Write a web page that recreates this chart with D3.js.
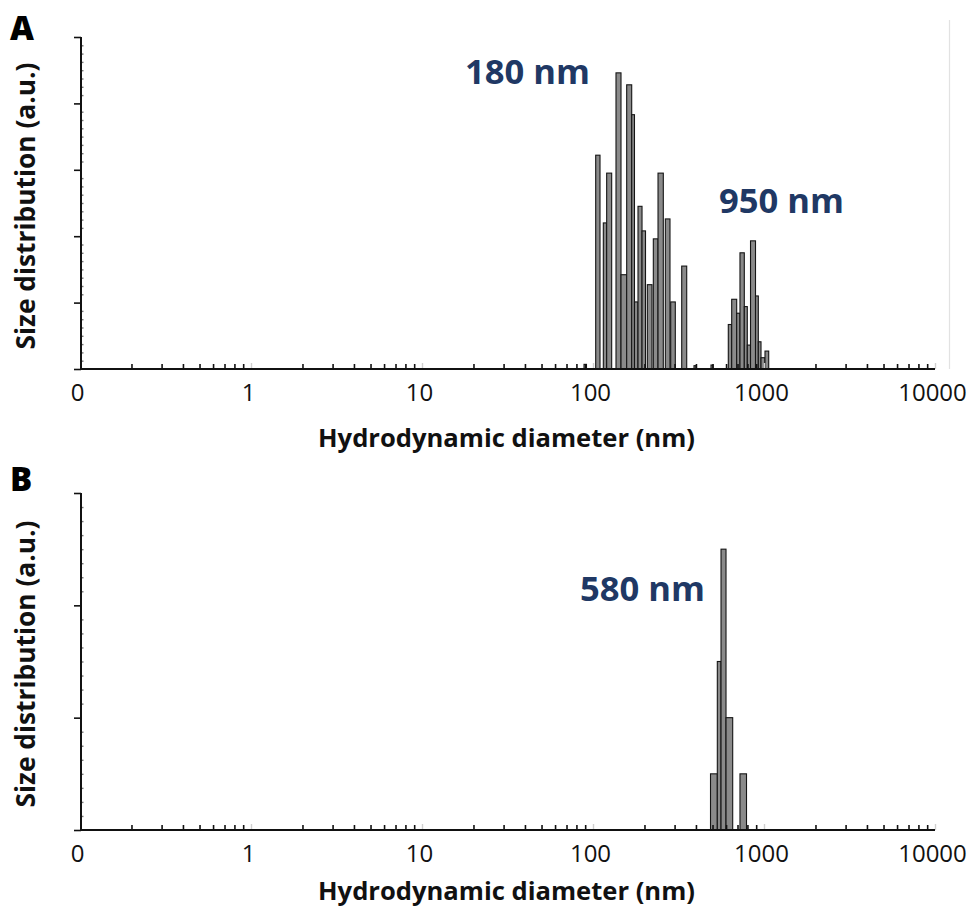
<!DOCTYPE html>
<html><head><meta charset="utf-8">
<script src="https://cdn.jsdelivr.net/npm/d3@7"></script>
<style>body{margin:0;background:#fff}</style>
</head><body>
<svg id="c" width="969" height="910"></svg>
<script>
// ---------------- data ----------------
const xTickValues = [0.1, 1, 10, 100, 1000, 10000];
const xTickLabels = ["0", "1", "10", "100", "1000", "10000"];

// Panel A: histogram bins (nm) and heights (a.u.)
const binLoA = [88.6, 103.7, 114.9, 120.2, 136.3, 145.8, 157.4, 168.4, 174.8, 183.3, 193.5, 207.8, 225.3, 240.0, 264.8, 284.7, 330.2,
                389.6, 489.8, 618.3, 647.3, 692.3, 723.6, 767.0, 798.6, 834.0, 892.0, 926.3, 960.5, 1013.5];
const binHiA = [91.6, 109.9, 120.2, 128.6, 145.8, 157.4, 168.4, 174.8, 183.3, 193.5, 202.8, 221.3, 240.0, 257.7, 282.0, 302.9, 353.2,
                400.3, 503.2, 647.3, 692.3, 723.6, 767.0, 798.6, 834.0, 892.0, 926.3, 960.5, 1013.5, 1065.4];
const valA   = [0.07, 3.22, 2.20, 2.95, 4.46, 1.42, 4.28, 3.83, 1.01, 2.45, 2.08, 1.27, 1.96, 2.95, 2.26, 1.01, 1.55,
                0.05, 0.06, 0.67, 1.05, 0.84, 1.75, 0.94, 0.36, 1.93, 1.10, 0.41, 0.17, 0.27];

// Panel B
const binLoB = [486.6, 533.3, 560.6, 599.6, 723.6];
const binHiB = [533.3, 560.6, 599.6, 656.1, 790.2];
const valB   = [0.5, 1.5, 2.5, 1.0, 0.5];

const peakTextA = ["180 nm", "950 nm"];
const peakTextB = ["580 nm"];
const yMaxA = 5, yMaxB = 3;
const xTitle = "Hydrodynamic diameter (nm)";
const yTitle = "Size distribution (a.u.)";

// ---------------- drawing ----------------
const svg = d3.select("#c");
const x = d3.scaleLog().domain([0.1, 10000]).range([80, 935]);
const minorX = [];
[0.1, 1, 10, 100, 1000].forEach(d => { for (let k = 2; k <= 9; k++) minorX.push(d * k); });

function fitText(sel, target) {
  const w = sel.node().getComputedTextLength();
  const fs = parseFloat(sel.attr("font-size"));
  sel.attr("font-size", fs * target / w);
}

function panel(cfg) {
  const g = svg.append("g");
  const y = d3.scaleLinear().domain([0, cfg.yMax]).range([cfg.bottom, cfg.top]);

  if (cfg.rightLine) g.append("line").attr("x1", 949.5).attr("x2", 949.5).attr("y1", cfg.top - 17).attr("y2", cfg.bottom)
     .attr("stroke", "#e2e2e2").attr("stroke-width", 1.2);

  // bars
  const data = cfg.lo.map((d, i) => ({lo: d, hi: cfg.hi[i], v: cfg.val[i]}));
  g.selectAll("rect.bar").data(data).join("rect").attr("class", "bar")
    .attr("x", d => x(d.lo)).attr("width", d => Math.max(1, x(d.hi) - x(d.lo)))
    .attr("y", d => y(d.v)).attr("height", d => cfg.bottom - y(d.v))
    .attr("fill", "#8a8a8a").attr("stroke", "#151515").attr("stroke-width", 1.1);

  // x axis minor ticks (inside)
  const xa = g.append("g").attr("transform", `translate(0,${cfg.bottom})`)
    .call(d3.axisBottom(x).tickValues(minorX).tickSizeInner(-5).tickSizeOuter(0).tickFormat(""));
  xa.select(".domain").remove();
  xa.selectAll("line").attr("stroke", "#111").attr("stroke-width", 1.6);
  const xd = g.append("g").attr("transform", `translate(0,${cfg.bottom})`)
    .call(d3.axisBottom(x).tickValues(xTickValues.slice(1)).tickSizeInner(-6).tickSizeOuter(0).tickFormat(""));
  xd.select(".domain").remove();
  xd.selectAll("line").attr("stroke", "#d0d0d0").attr("stroke-width", 1.4);
  const xl = g.append("g").attr("transform", `translate(0,${cfg.bottom})`)
    .call(d3.axisBottom(x).tickValues(xTickValues).tickSize(0).tickPadding(14)
      .tickFormat((d, i) => xTickLabels[i]));
  xl.select(".domain").remove();
  xl.selectAll("text").attr("font-family", "Open Sans").attr("font-size", 24).attr("fill", "#111")
    .attr("dx", -3).attr("dy", 0).attr("y", 32);
  g.append("line").attr("x1", 80).attr("x2", 935).attr("y1", cfg.bottom).attr("y2", cfg.bottom)
    .attr("stroke", "#111").attr("stroke-width", 2);

  // y axis
  const ya = g.append("g").attr("transform", "translate(81,0)")
    .call(d3.axisLeft(y).ticks(cfg.yMax).tickSizeInner(7).tickSizeOuter(0).tickFormat(""));
  ya.select(".domain").remove();
  ya.selectAll("line").attr("stroke", "#111").attr("stroke-width", 1.6);
  const minorY = d3.range(0, cfg.yMax * 8 + 1).map(k => k / 8).filter(v => Math.abs(v - Math.round(v)) > 1e-6);
  const ym = g.append("g").attr("transform", "translate(81,0)")
    .call(d3.axisRight(y).tickValues(minorY).tickSizeInner(2.5).tickSizeOuter(0).tickFormat(""));
  ym.select(".domain").remove();
  ym.selectAll("line").attr("stroke", "#777").attr("stroke-width", 1.4);
  g.append("line").attr("x1", 81).attr("x2", 81).attr("y1", cfg.top).attr("y2", cfg.bottom + 1)
    .attr("stroke", "#111").attr("stroke-width", 2);

  // titles
  const xt = g.append("text").attr("x", 506.5).attr("y", cfg.xTitleY).attr("text-anchor", "middle")
    .attr("font-family", "Open Sans").attr("font-weight", "bold").attr("font-size", 20).attr("fill", "#111").text(xTitle);
  fitText(xt, 377);
  const yt = g.append("text").attr("transform", `translate(25,${cfg.yTitleC}) rotate(-90)`)
    .attr("text-anchor", "middle").attr("dominant-baseline", "central")
    .attr("font-family", "Open Sans").attr("font-weight", "bold").attr("font-size", 20).attr("fill", "#111").text(yTitle);
  fitText(yt, 287);

  // panel letter (heavy)
  g.append("text").attr("x", 10).attr("y", cfg.letterY).attr("font-family", "Noto Sans, DejaVu Sans").attr("font-weight", 900)
    .attr("font-size", 33).attr("fill", "#000").text(cfg.letter);

  // peak annotations
  cfg.peaks.forEach((p, i) => {
    const t = g.append("text").attr("x", p.cx).attr("y", p.y).attr("text-anchor", "middle")
      .attr("font-family", "Open Sans").attr("font-weight", "bold").attr("font-size", 30)
      .attr("fill", "#203864").text(cfg.peakText[i]);
    fitText(t, 125);
  });
}

panel({top: 37, bottom: 369, yMax: yMaxA, lo: binLoA, hi: binHiA, val: valA, xTitleY: 447, yTitleC: 206,
       letter: "A", letterY: 40, rightLine: true, peakText: peakTextA,
       peaks: [{cx: 527.5, y: 84}, {cx: 781.5, y: 213}]});
panel({top: 493, bottom: 830, yMax: yMaxB, lo: binLoB, hi: binHiB, val: valB, xTitleY: 900, yTitleC: 664,
       letter: "B", letterY: 491, rightLine: false, peakText: peakTextB,
       peaks: [{cx: 642.5, y: 601}]});
</script>
</body></html>
